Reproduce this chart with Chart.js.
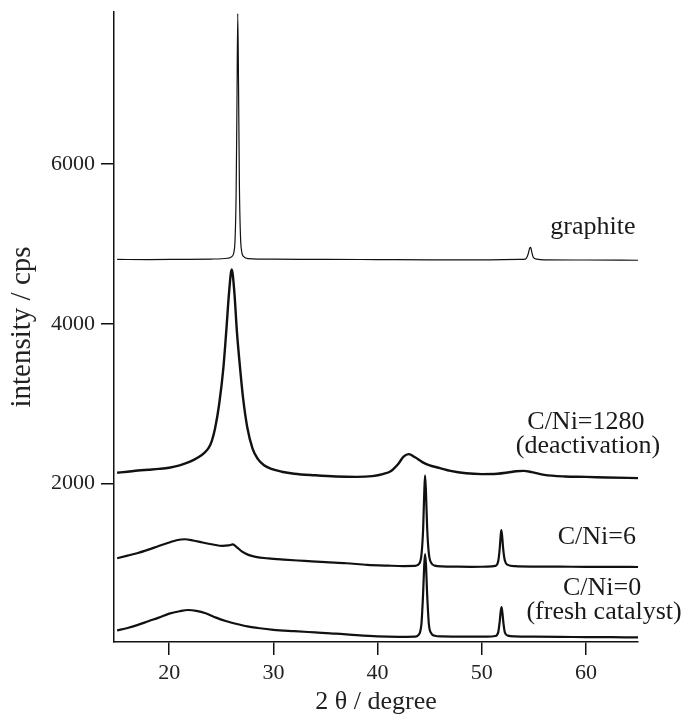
<!DOCTYPE html>
<html>
<head>
<meta charset="utf-8">
<script src="https://cdn.jsdelivr.net/npm/chart.js@4/dist/chart.umd.min.js"></script>
<style>
  html, body { margin: 0; padding: 0; background: #fff; }
  canvas { display: block; }
</style>
</head>
<body>
<canvas id="xrd" width="682" height="717"></canvas>
<script>
// XRD patterns: 2θ (degree) vs intensity (cps), each pattern offset vertically
const xTickValues = [20, 30, 40, 50, 60];
const yTickValues = [2000, 4000, 6000];

const graphiteX = [15, 18, 21, 24, 25.6, 26.0, 26.2, 26.32, 26.42, 26.5, 26.58, 26.66, 26.74, 26.84, 26.96, 27.15, 27.6, 30, 35, 40, 45, 50, 53.6, 54.2, 54.45, 54.6, 54.7, 54.8, 54.95, 55.3, 56, 60, 65];
const graphiteY = [4805, 4803, 4806, 4810, 4820, 4840, 4890, 5050, 5600, 6700, 7880, 6900, 5700, 5100, 4900, 4840, 4815, 4808, 4806, 4803, 4800, 4800, 4805, 4810, 4870, 4945, 4955, 4900, 4830, 4808, 4800, 4798, 4795];

const deactX = [15, 16, 17, 18, 19, 20, 21, 22, 22.8, 23.4, 23.8, 24.1, 24.4, 24.8, 25.2, 25.5, 25.75, 26.0, 26.25, 26.5, 26.8, 27.1, 27.5, 28, 28.5, 29.1, 29.8, 30.8, 32, 34, 36, 38, 39.5, 40.5, 41.3, 42, 42.5, 43, 43.6, 44.3, 45, 46, 47, 48.5, 50, 51.5, 52.5, 53.3, 54, 54.8, 56, 58, 60, 62, 65];
const deactY = [2137, 2150, 2165, 2175, 2185, 2200, 2230, 2275, 2330, 2390, 2450, 2540, 2690, 3000, 3450, 3950, 4400, 4680, 4400, 3900, 3450, 3060, 2700, 2440, 2310, 2230, 2185, 2150, 2125, 2105, 2090, 2085, 2095, 2120, 2160, 2250, 2340, 2370, 2330, 2270, 2230, 2195, 2160, 2130, 2120, 2125, 2140, 2155, 2160, 2145, 2110, 2090, 2085, 2078, 2070];

const cni6X = [15, 16, 17, 18, 19, 20, 20.8, 21.5, 22.3, 23.2, 24.2, 25.1, 25.7, 26.1, 26.5, 27, 27.6, 28.3, 29.5, 31, 33, 35, 37, 39, 41, 42.5, 43.6, 44.0, 44.22, 44.38, 44.48, 44.56, 44.65, 44.76, 44.92, 45.15, 45.5, 46.2, 47.5, 49, 50.5, 51.3, 51.58, 51.72, 51.82, 51.88, 51.96, 52.07, 52.22, 52.5, 53.2, 55, 57.5, 60, 62.5, 65];
const cni6Y = [1067, 1100, 1133, 1175, 1221, 1265, 1296, 1305, 1290, 1265, 1240, 1222, 1228, 1240, 1205, 1150, 1110, 1085, 1065, 1050, 1034, 1018, 1005, 985, 975, 970, 972, 1000, 1120, 1450, 1880, 2105, 1880, 1450, 1130, 1010, 975, 965, 962, 960, 962, 972, 1030, 1180, 1350, 1421, 1340, 1170, 1040, 985, 968, 963, 962, 960, 960, 958];

const freshX = [15, 16, 17, 18, 19, 20, 21, 21.8, 22.6, 23.5, 24.5, 25.5, 26.5, 27.5, 28.5, 30, 32, 34, 36, 38, 40, 42, 43.6, 44.0, 44.22, 44.38, 44.48, 44.56, 44.65, 44.76, 44.92, 45.15, 45.5, 46.2, 47.5, 49, 50.5, 51.3, 51.58, 51.72, 51.82, 51.9, 51.98, 52.08, 52.22, 52.5, 53.2, 55, 57.5, 60, 62.5, 65];
const freshY = [165, 195, 234, 280, 325, 375, 405, 420, 410, 380, 325, 280, 245, 215, 195, 172, 155, 140, 125, 105, 90, 85, 88, 120, 260, 650, 980, 1120, 980, 620, 250, 130, 98, 90, 88, 86, 88, 95, 140, 270, 400, 455, 390, 260, 140, 100, 90, 86, 83, 82, 80, 78];

// Curve labels (each line of a label is one entry)
const curveLabels = [
  ['graphite'],
  ['C/Ni=1280', '(deactivation)'],
  ['C/Ni=6'],
  ['C/Ni=0', '(fresh catalyst)']
];

const pts = (xs, ys) => xs.map((x, i) => ({ x: x, y: ys[i] }));

const serif = '"Liberation Serif", "Times New Roman", serif';
const ink = '#111';

// label anchors in data coordinates (centre of the first line)
const labelAnchors = [
  { x: 60.67, y: 5207 },
  { x: 60.0, y: 2770 },
  { x: 61.05, y: 1332 },
  { x: 61.55, y: 695 }
];

const curveLabelPlugin = {
  id: 'curveLabels',
  afterDatasetsDraw(chart) {
    const ctx = chart.ctx;
    const xs = chart.scales.x, ys = chart.scales.y;
    ctx.save();
    ctx.fillStyle = '#1a1a1a';
    ctx.font = Chart.helpers.toFont({ family: serif, size: 26 }).string;
    ctx.textAlign = 'center';
    ctx.textBaseline = 'middle';
    curveLabels.forEach((lines, i) => {
      const a = labelAnchors[i];
      const px = xs.getPixelForValue(a.x);
      const py = ys.getPixelForValue(a.y);
      lines.forEach((t, j) => ctx.fillText(t, px + (j ? 2 : 0), py + j * 24));
    });
    ctx.restore();
  }
};

const lineSet = (data, w) => ({
  data: data,
  borderColor: ink,
  borderWidth: w,
  pointRadius: 0,
  fill: false,
  cubicInterpolationMode: 'monotone',
  clip: false
});

const tickFont = { family: serif, size: 22 };
const titleFont = { family: serif, size: 26, lineHeight: 1.2 };

new Chart(document.getElementById('xrd'), {
  type: 'line',
  data: {
    datasets: [
      lineSet(pts(graphiteX, graphiteY), 1.2),
      lineSet(pts(deactX, deactY), 2.4),
      lineSet(pts(cni6X, cni6Y), 2.2),
      lineSet(pts(freshX, freshY), 2.2)
    ]
  },
  options: {
    responsive: false,
    animation: false,
    devicePixelRatio: 1,
    layout: { padding: { left: 0, top: 12, right: 44, bottom: 0 } },
    plugins: { legend: { display: false }, tooltip: { enabled: false } },
    scales: {
      x: {
        type: 'linear',
        min: 14.7,
        max: 65,
        afterFit(scale) { scale.height = 75; scale.paddingLeft = 0; scale.paddingRight = 0; },
        afterBuildTicks(scale) { scale.ticks = xTickValues.map(v => ({ value: v })); },
        border: { display: true, color: ink, width: 1.5 },
        grid: { drawOnChartArea: false, drawTicks: true, tickLength: 13, color: ink, lineWidth: 1.5 },
        ticks: { font: tickFont, color: '#222', padding: 5, maxRotation: 0 },
        title: { display: true, text: '2 θ / degree', font: titleFont, color: '#222', padding: { top: 0, bottom: -1 } }
      },
      y: {
        type: 'linear',
        min: 20,
        max: 7900,
        afterFit(scale) { scale.width = 114; scale.paddingTop = 0; scale.paddingBottom = 0; },
        afterBuildTicks(scale) { scale.ticks = yTickValues.map(v => ({ value: v })); },
        border: { display: true, color: ink, width: 1.5 },
        grid: { drawOnChartArea: false, drawTicks: true, tickLength: 13, color: ink, lineWidth: 1.5 },
        ticks: { font: tickFont, color: '#222', padding: 6, callback: v => String(v) },
        title: { display: true, text: 'intensity / cps', font: { family: serif, size: 29, lineHeight: 1.2 }, color: '#222', padding: { top: 5, bottom: 0 } }
      }
    }
  },
  plugins: [curveLabelPlugin]
});
</script>
</body>
</html>
